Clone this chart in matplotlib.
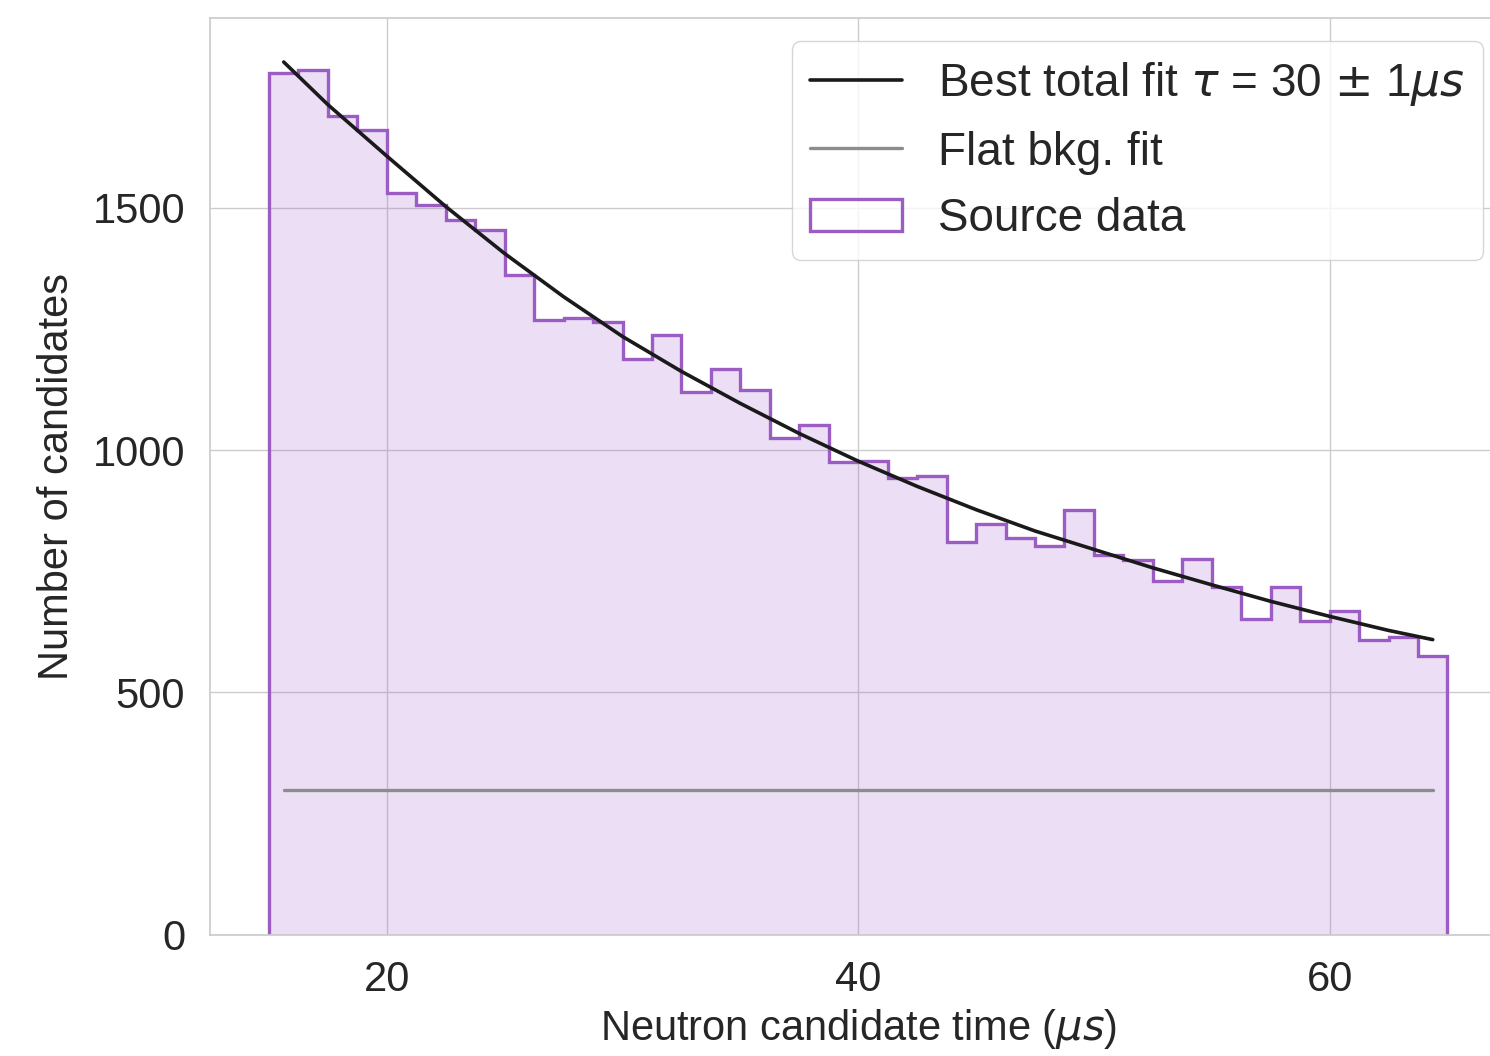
import numpy as np
import matplotlib
matplotlib.use('Agg')
import matplotlib.pyplot as plt
import seaborn as sns

# -------------------------------
# Data
# -------------------------------
bin_lo, bin_hi, n_bins = 15.0, 65.0, 40
counts = [1778, 1783, 1689, 1660, 1529, 1506, 1475, 1453, 1360, 1268,
          1273, 1263, 1188, 1238, 1119, 1166, 1123, 1025, 1052, 975,
          978, 942, 946, 810, 848, 819, 803, 876, 784, 774,
          729, 775, 717, 651, 717, 647, 669, 609, 614, 576]

# total fit curve
fit_t = [15.625, 17.5, 20, 22.5, 25, 27.5, 30, 32.5, 35, 37.5, 40,
         42.5, 45, 47.5, 50, 52.5, 55, 57.5, 60, 62.5, 64.375]
fit_y = [1800, 1712, 1606, 1502, 1405, 1316, 1234, 1162, 1096, 1034, 977,
         925, 877, 833, 795, 757, 722, 688, 657, 628, 609]

# flat background level
bkg_t = [15.625, 64.375]
bkg_y = [299, 299]

fit_label = r'Best total fit $\tau$ = 30 $\pm$ 1$\mu s$'
bkg_label = 'Flat bkg. fit'
data_label = 'Source data'

# -------------------------------
# Style
# -------------------------------
sns.set_theme(style='whitegrid')
plt.rcParams['font.family'] = ['Liberation Sans', 'DejaVu Sans']
plt.rcParams['font.size'] = 30

purple = '#a05fcd'
edge = '#9b5cc4'

fig = plt.figure(figsize=(14.9, 10.56), dpi=100)
ax = fig.add_axes([0.141, 0.1146, 0.870, 0.868])

edges = np.linspace(bin_lo, bin_hi, n_bins + 1)
centers = 0.5 * (edges[:-1] + edges[1:])

ax.hist(centers, bins=edges, weights=counts, histtype='stepfilled',
        color=purple, alpha=0.2, linewidth=0)
ax.hist(centers, bins=edges, weights=counts, histtype='step',
        color=edge, linewidth=2.4, label=data_label)
ax.plot(fit_t, fit_y, color='#1a1a1a', linewidth=2.6, label=fit_label)
ax.plot(bkg_t, bkg_y, color='#8c8c8c', linewidth=2.4, label=bkg_label)

ax.set_xlim(12.5, 67.5)
ax.set_ylim(0, 1890)
ax.set_xticks([20, 40, 60])
ax.set_yticks([0, 500, 1000, 1500])
ax.tick_params(labelsize=30, colors='#262626', pad=12)
ax.set_xlabel(r'Neutron candidate time ($\mu s$)', fontsize=30,
              color='#262626', labelpad=5)
ax.set_ylabel('Number of candidates', fontsize=30, color='#262626',
              labelpad=11)

handles, labels = ax.get_legend_handles_labels()
order = [1, 2, 0]
ax.legend([handles[i] for i in order], [labels[i] for i in order],
          loc='upper right', fontsize=33)

fig.savefig('out.png', dpi=100)
